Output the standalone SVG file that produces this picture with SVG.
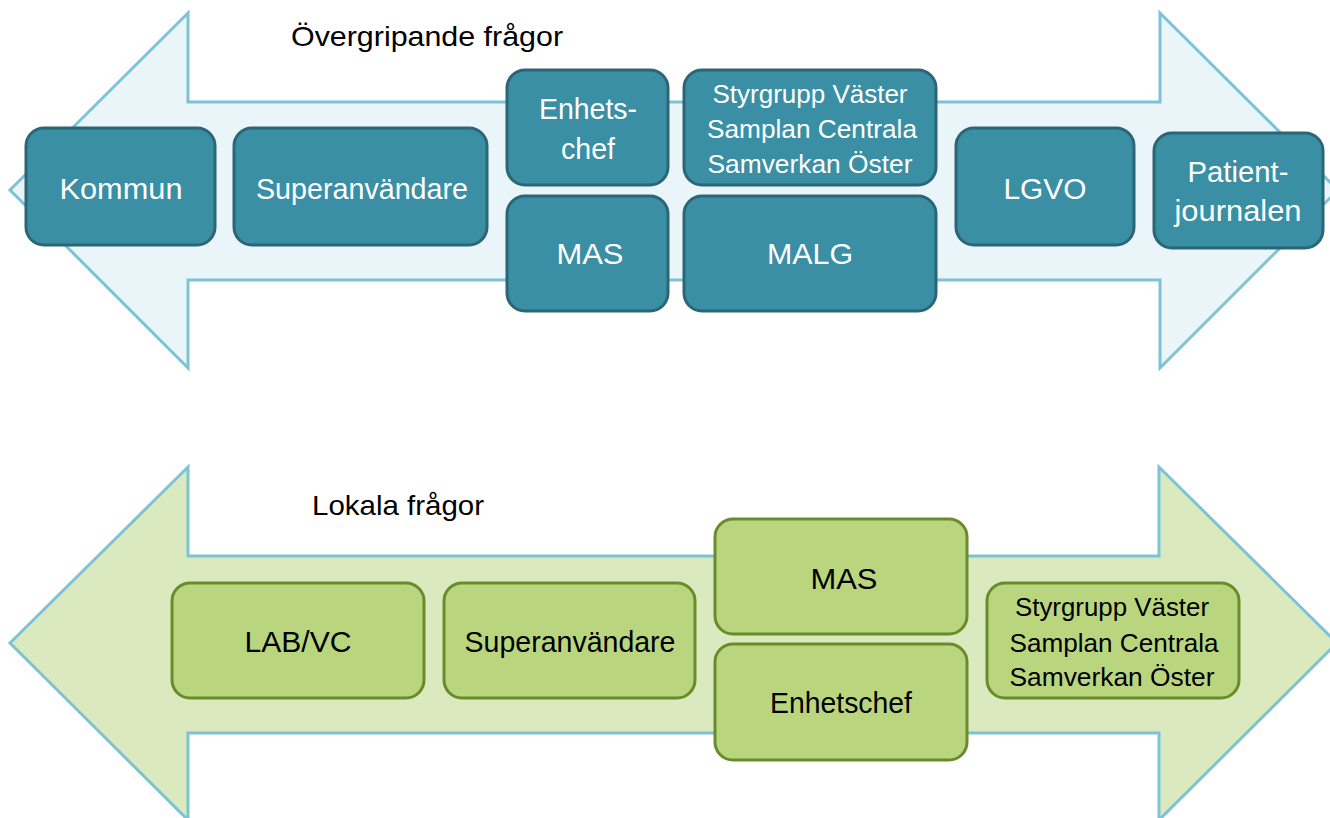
<svg xmlns="http://www.w3.org/2000/svg" width="1330" height="818" viewBox="0 0 1330 818">
<style>
.arrow{stroke:#7DC3D5;stroke-width:3;stroke-linejoin:miter}
.a1{fill:#EAF5FA}
.a2{fill:#DBEABE}
.nb{fill:#3A8FA5;stroke:#2B6677;stroke-width:3}
.ng{fill:#B9D67E;stroke:#6A8B2C;stroke-width:3}
text{font-family:"Liberation Sans",Arial,sans-serif;font-size:30px;text-anchor:middle}
.w{fill:#FFFFFF}
.k{fill:#000000}
.s{font-size:26px}
.t{fill:#000000;text-anchor:start;font-size:28px}
</style>
<rect width="1330" height="818" fill="#FFFFFF"/>
<g id="arrow-top">
<polygon class="arrow a1" points="10,190 188,13 188,102 1160,102 1160,13 1338,190 1160,368 1160,280 188,280 188,368"/>
<text class="t" x="291" y="46" textLength="272" lengthAdjust="spacingAndGlyphs">Övergripande frågor</text>
</g>
<g id="arrow-bottom">
<polygon class="arrow a2" points="10,643 188,467 188,556 1159,556 1159,467 1337,643 1159,820 1159,733 188,733 188,820"/>
<text class="t" x="312" y="515" textLength="172" lengthAdjust="spacingAndGlyphs">Lokala frågor</text>
</g>
<g id="connectors"></g>
<g id="n-kommun"><rect class="nb" x="26" y="128" width="189" height="117" rx="18"/><text class="w" x="121" y="199" textLength="123" lengthAdjust="spacingAndGlyphs">Kommun</text></g>
<g id="n-superanvandare-top"><rect class="nb" x="234" y="128" width="253" height="117" rx="18"/><text class="w" x="362" y="199" textLength="212" lengthAdjust="spacingAndGlyphs">Superanvändare</text></g>
<g id="n-enhetschef-top"><rect class="nb" x="507" y="70" width="161" height="115" rx="18"/><text class="w" x="588" y="119" textLength="98" lengthAdjust="spacingAndGlyphs">Enhets-</text><text class="w" x="588" y="159" textLength="54" lengthAdjust="spacingAndGlyphs">chef</text></g>
<g id="n-mas-top"><rect class="nb" x="507" y="196" width="161" height="115" rx="18"/><text class="w" x="590" y="264" textLength="67" lengthAdjust="spacingAndGlyphs">MAS</text></g>
<g id="n-styrgrupp-top"><rect class="nb" x="684" y="70" width="252" height="115" rx="18"/><text class="w s" x="810" y="103" textLength="195" lengthAdjust="spacingAndGlyphs">Styrgrupp Väster</text><text class="w s" x="812" y="138" textLength="210" lengthAdjust="spacingAndGlyphs">Samplan Centrala</text><text class="w s" x="810" y="173" textLength="205" lengthAdjust="spacingAndGlyphs">Samverkan Öster</text></g>
<g id="n-malg"><rect class="nb" x="684" y="196" width="252" height="115" rx="18"/><text class="w" x="810" y="264" textLength="86" lengthAdjust="spacingAndGlyphs">MALG</text></g>
<g id="n-lgvo"><rect class="nb" x="956" y="128" width="178" height="117" rx="18"/><text class="w" x="1045" y="199" textLength="83" lengthAdjust="spacingAndGlyphs">LGVO</text></g>
<g id="n-patientjournalen"><rect class="nb" x="1154" y="133" width="169" height="115" rx="18"/><text class="w" x="1238" y="182" textLength="101" lengthAdjust="spacingAndGlyphs">Patient-</text><text class="w" x="1238" y="221" textLength="127" lengthAdjust="spacingAndGlyphs">journalen</text></g>
<g id="n-labvc"><rect class="ng" x="172" y="583" width="252" height="115" rx="18"/><text class="k" x="298" y="652" textLength="107" lengthAdjust="spacingAndGlyphs">LAB/VC</text></g>
<g id="n-superanvandare-bottom"><rect class="ng" x="444" y="583" width="251" height="115" rx="18"/><text class="k" x="570" y="652" textLength="211" lengthAdjust="spacingAndGlyphs">Superanvändare</text></g>
<g id="n-mas-bottom"><rect class="ng" x="715" y="519" width="252" height="115" rx="18"/><text class="k" x="844" y="589" textLength="67" lengthAdjust="spacingAndGlyphs">MAS</text></g>
<g id="n-enhetschef-bottom"><rect class="ng" x="715" y="644" width="252" height="116" rx="18"/><text class="k" x="841" y="713" textLength="142" lengthAdjust="spacingAndGlyphs">Enhetschef</text></g>
<g id="n-styrgrupp-bottom"><rect class="ng" x="987" y="583" width="252" height="115" rx="18"/><text class="k s" x="1112" y="616" textLength="194" lengthAdjust="spacingAndGlyphs">Styrgrupp Väster</text><text class="k s" x="1114" y="652" textLength="209" lengthAdjust="spacingAndGlyphs">Samplan Centrala</text><text class="k s" x="1112" y="686" textLength="205" lengthAdjust="spacingAndGlyphs">Samverkan Öster</text></g>
</svg>
